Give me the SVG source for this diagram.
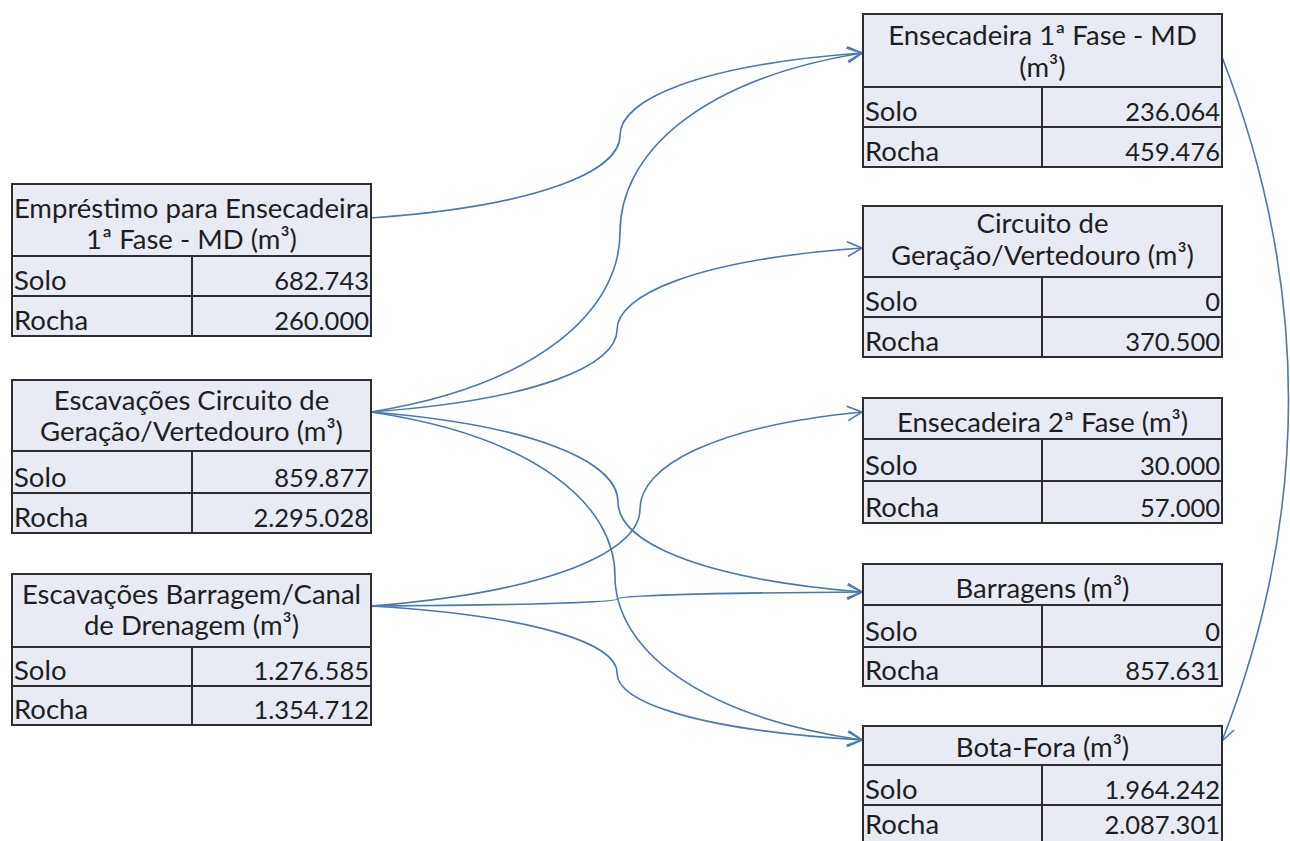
<svg xmlns="http://www.w3.org/2000/svg" width="1290" height="841" viewBox="0 0 1290 841">
<defs>
<style>
.cell{fill:#e8ebf4;stroke:#2e2e2e;stroke-width:2}
.ln{stroke:#2e2e2e;stroke-width:2;fill:none}
text{font-family:Lato,"Liberation Sans",sans-serif;font-size:27.5px;fill:#1e1e1e}
.c{text-anchor:middle}
.r{text-anchor:end;font-size:25.5px}
.con{fill:none;stroke:#4a78b0;stroke-width:1.6;marker-end:url(#arr)}
</style>
<marker id="arr" viewBox="-16 -9 18 18" markerWidth="18" markerHeight="18" refX="0" refY="0" orient="auto" markerUnits="userSpaceOnUse">
<path d="M-14,-7 L0,0 L-14,7" fill="none" stroke="#4a78b0" stroke-width="1.6" stroke-linecap="round" stroke-linejoin="round"/>
</marker>
</defs>
<rect width="1290" height="841" fill="#ffffff"/>

<g id="connectors">
<path class="con" d="M371,218 C540,206 620,171 620,135.5 C620,100 697,65 862,53"/>
<path class="con" d="M371,412 C540,385 620,309 620,232.5 C620,155 697,80 862,53"/>
<path class="con" d="M371,412 C538,400 617,365 617,330 C617,295 695,260 862,248"/>
<path class="con" d="M371,412 C539,425.5 618,463 618,502 C618,541 696,578.5 862,592"/>
<path class="con" d="M371,412 C537,436.6 615,505.5 615,576 C615,646.5 694,715.4 862,740"/>
<path class="con" d="M371,606 C554,591.5 640,550.7 640,509 C640,467.3 711,426.6 862,412"/>
<path class="con" d="M371,606 C538,605 617,602 617,599 C617,596 696,593 862,592"/>
<path class="con" d="M371,606 C538,616 617,644 617,673 C617,702 696,730 862,740"/>
<path class="con" d="M1222,57 Q1355,400 1222,741"/>
</g>

<g id="emprestimo">
<rect class="cell" x="12" y="184" width="359" height="152"/>
<path class="ln" d="M12,256 H371 M12,296 H371 M192,256 V336"/>
<text class="c" x="191.5" y="218">Empréstimo para Ensecadeira</text>
<text class="c" x="191.5" y="249">1ª Fase - MD (m³)</text>
<text x="14" y="290">Solo</text><text class="r" x="369" y="290">682.743</text>
<text x="14" y="330">Rocha</text><text class="r" x="369" y="330">260.000</text>
</g>

<g id="escav-circuito">
<rect class="cell" x="12" y="380" width="359" height="153"/>
<path class="ln" d="M12,451 H371 M12,493 H371 M192,451 V533"/>
<text class="c" x="191.5" y="410">Escavações Circuito de</text>
<text class="c" x="191.5" y="441">Geração/Vertedouro (m³)</text>
<text x="14" y="487">Solo</text><text class="r" x="369" y="487">859.877</text>
<text x="14" y="527">Rocha</text><text class="r" x="369" y="527">2.295.028</text>
</g>

<g id="escav-barragem">
<rect class="cell" x="12" y="574" width="359" height="151"/>
<path class="ln" d="M12,647 H371 M12,686 H371 M192,647 V725"/>
<text class="c" x="191.5" y="604">Escavações Barragem/Canal</text>
<text class="c" x="191.5" y="635">de Drenagem (m³)</text>
<text x="14" y="680">Solo</text><text class="r" x="369" y="680">1.276.585</text>
<text x="14" y="719">Rocha</text><text class="r" x="369" y="719">1.354.712</text>
</g>

<g id="ensecadeira1">
<rect class="cell" x="863" y="14" width="359" height="153"/>
<path class="ln" d="M863,87 H1222 M863,127 H1222 M1042,87 V167"/>
<text class="c" x="1042.5" y="45">Ensecadeira 1ª Fase - MD</text>
<text class="c" x="1042.5" y="77">(m³)</text>
<text x="865" y="121">Solo</text><text class="r" x="1220" y="121">236.064</text>
<text x="865" y="161">Rocha</text><text class="r" x="1220" y="161">459.476</text>
</g>

<g id="circuito">
<rect class="cell" x="863" y="206" width="359" height="151"/>
<path class="ln" d="M863,277 H1222 M863,317 H1222 M1042,277 V357"/>
<text class="c" x="1042.5" y="233">Circuito de</text>
<text class="c" x="1042.5" y="265">Geração/Vertedouro (m³)</text>
<text x="865" y="311">Solo</text><text class="r" x="1220" y="311">0</text>
<text x="865" y="351">Rocha</text><text class="r" x="1220" y="351">370.500</text>
</g>

<g id="ensecadeira2">
<rect class="cell" x="863" y="398" width="359" height="125"/>
<path class="ln" d="M863,439 H1222 M863,481 H1222 M1042,439 V523"/>
<text class="c" x="1042.5" y="432">Ensecadeira 2ª Fase (m³)</text>
<text x="865" y="475">Solo</text><text class="r" x="1220" y="475">30.000</text>
<text x="865" y="517">Rocha</text><text class="r" x="1220" y="517">57.000</text>
</g>

<g id="barragens">
<rect class="cell" x="863" y="564" width="359" height="122"/>
<path class="ln" d="M863,605 H1222 M863,647 H1222 M1042,605 V686"/>
<text class="c" x="1042.5" y="598">Barragens (m³)</text>
<text x="865" y="641">Solo</text><text class="r" x="1220" y="641">0</text>
<text x="865" y="680">Rocha</text><text class="r" x="1220" y="680">857.631</text>
</g>

<g id="bota-fora">
<rect class="cell" x="863" y="726" width="359" height="120"/>
<path class="ln" d="M863,765 H1222 M863,805 H1222 M1042,765 V846"/>
<text class="c" x="1042.5" y="757">Bota-Fora (m³)</text>
<text x="865" y="799">Solo</text><text class="r" x="1220" y="799">1.964.242</text>
<text x="865" y="834">Rocha</text><text class="r" x="1220" y="834">2.087.301</text>
</g>
</svg>
